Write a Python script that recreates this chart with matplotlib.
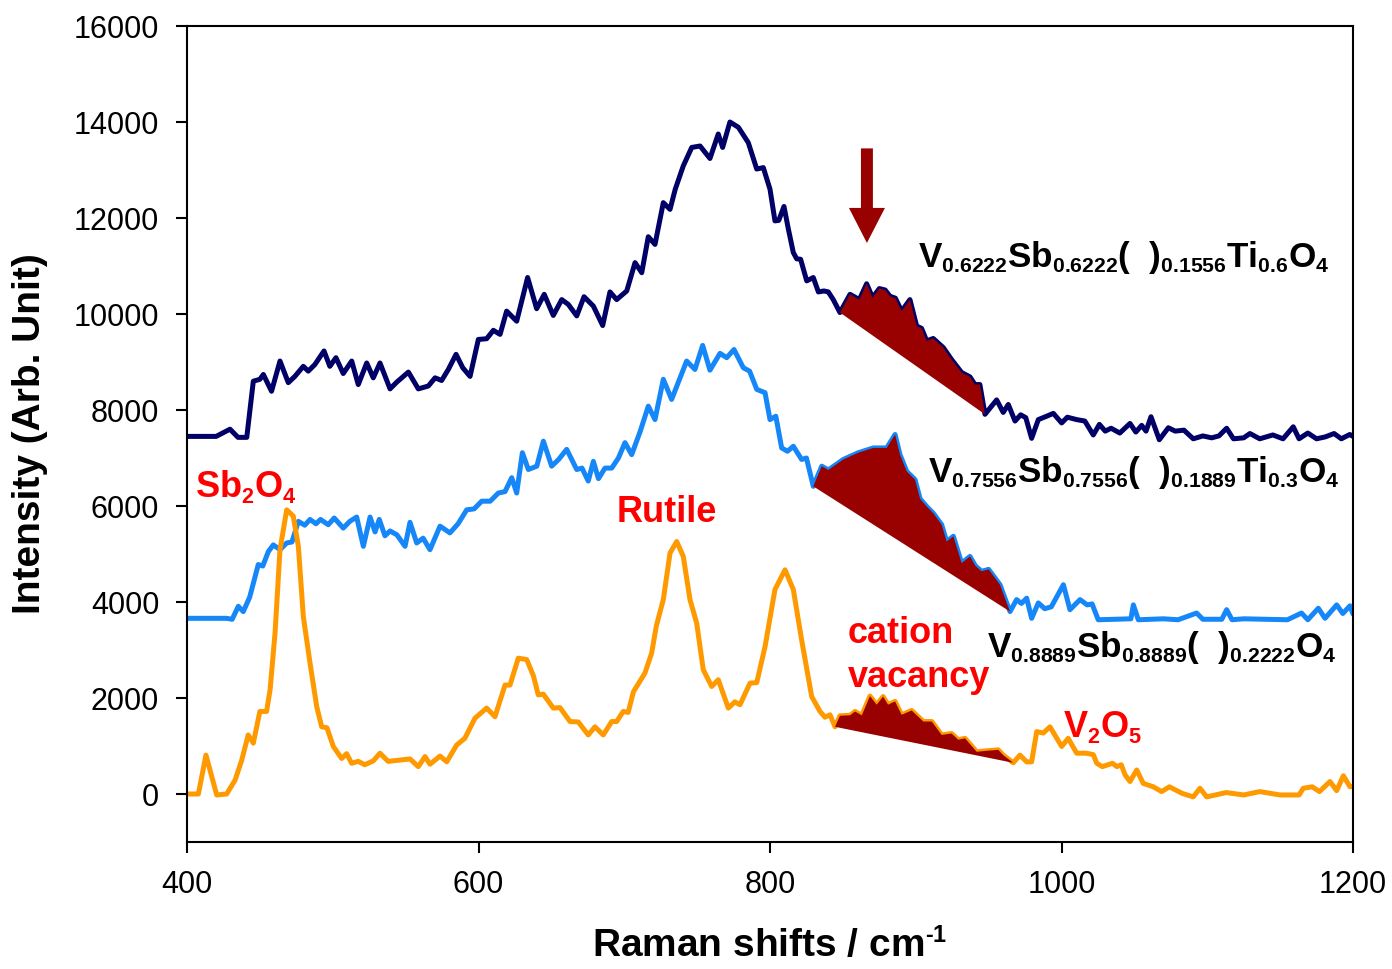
import numpy as np
import matplotlib
matplotlib.use("Agg")
import matplotlib.pyplot as plt
from matplotlib.patches import FancyArrow
import matplotlib._mathtext as _mathtext

# smaller sub/superscripts for the chemical formulas
_mathtext.SHRINK_FACTOR = 0.6

plt.rcParams["font.family"] = ["Liberation Sans", "DejaVu Sans"]
plt.rcParams["mathtext.fontset"] = "custom"
plt.rcParams["mathtext.rm"] = "Liberation Sans:bold"
plt.rcParams["mathtext.bf"] = "Liberation Sans:bold"
plt.rcParams["mathtext.it"] = "Liberation Sans:bold"
plt.rcParams["mathtext.sf"] = "Liberation Sans:bold"
plt.rcParams["mathtext.default"] = "bf"

# ---- Raman spectra (offset stacked) ----
# V0.6222Sb0.6222()0.1556Ti0.6O4
x_ti06 = [400, 420, 429.5, 435, 441, 445.5, 450, 452.4, 458, 463.8, 469.5, 474, 479.8, 483.2,
          487.8, 494, 498, 502.2, 507.2, 513, 517.5, 523.3, 527.8, 532.4, 539.3, 543.9, 551.9,
          558.7, 565.6, 570.2, 574.7, 579.3, 584.6, 589.2, 594.2, 599.9, 605.6, 610.2, 614.8,
          619.3, 626.2, 633.7, 639.9, 645.1, 651.3, 657.1, 661.6, 667.4, 672.4, 678.8, 685.2,
          690.2, 694.8, 701.7, 707.4, 712, 716.5, 721.1, 726.8, 731.4, 735, 740.5, 746.3, 752,
          758.8, 764.5, 767.5, 772.5, 778.3, 785.1, 790.9, 795.4, 800, 803.4, 806, 809.6, 812.6,
          816, 818.3, 821, 825.2, 829.7, 833.2, 837, 840, 843.4, 848, 854.9, 861.3, 866.3, 870.4,
          875, 879, 882.3, 886, 890.3, 896, 900.6, 904, 907.5, 912, 918.9, 924.6, 931.5, 937.2,
          940.6, 944, 947.5, 955.5, 960, 963.5, 968.1, 972, 975.5, 979.5, 984.1, 989.8, 994.4,
          1000.1, 1004, 1010.4, 1016, 1021.8, 1026, 1030, 1034, 1040, 1047, 1051, 1055, 1058,
          1061.4, 1067.1, 1073.3, 1078, 1084, 1090.4, 1097, 1103, 1108, 1113.3, 1118, 1125,
          1129.3, 1136, 1145, 1152, 1159, 1163, 1169, 1175, 1181, 1187, 1192, 1197.8, 1200]
y_ti06 = [7450, 7450, 7600, 7430, 7430, 8600, 8640, 8740, 8390, 9020, 8570, 8700, 8910, 8810,
          8950, 9230, 8910, 9090, 8760, 9020, 8530, 8980, 8670, 8980, 8440, 8580, 8790,
          8440, 8500, 8670, 8615, 8845, 9160, 8880, 8700, 9470, 9485, 9660, 9575,
          10060, 9850, 10760, 10110, 10410, 9970, 10300, 10200, 9960, 10360, 10165, 9760,
          10460, 10300, 10480, 11070, 10860, 11610, 11450, 12320, 12180, 12600, 13085, 13470, 13500,
          13240, 13750, 13470, 14000, 13890, 13570, 13020, 13050, 12600, 11940, 11950, 12240, 11770,
          11280, 11150, 11140, 10690, 10760, 10460, 10480, 10460, 10300, 10030, 10410, 10300, 10630, 10340,
          10530, 10500, 10370, 10330, 10060, 10300, 9750, 9700, 9440, 9490, 9300, 9050, 8780, 8690,
          8530, 8530, 7910, 8210, 7950, 8115, 7770, 7900, 7840, 7410, 7800, 7870, 7930,
          7730, 7850, 7800, 7770, 7480, 7700, 7560, 7620, 7520, 7720, 7540, 7680, 7560,
          7860, 7380, 7630, 7560, 7580, 7400, 7460, 7420, 7460, 7620, 7400, 7420,
          7510, 7400, 7480, 7400, 7650, 7400, 7520, 7400, 7440, 7510, 7400, 7490, 7450]

# V0.7556Sb0.7556()0.1889Ti0.3O4
x_ti03 = [400, 427, 431, 435.2, 438.6, 443, 448.9, 452, 455.8, 459.2, 463.8, 468.4, 472, 476.4,
          480.8, 484.4, 488.5, 491.6, 496.9, 501, 507.2, 511.7, 516.4, 521, 525.6, 529, 531.9,
          535.8, 539.3, 544, 549.6, 553, 557.6, 562, 566.7, 573.6, 580.4, 586, 591.9, 597,
          602.2, 608, 613.6, 618.2, 622.8, 626.2, 630.1, 634.2, 640, 644.5, 650.2, 655, 660.5,
          667.4, 671, 675.3, 678.8, 682.3, 686.8, 691.4, 696, 700.5, 705.1, 711, 716.5, 721.1,
          726.8, 732.5, 737, 742.8, 748.5, 753.8, 758.8, 765.7, 770.3, 775.3, 781.7, 786, 790.9,
          796.6, 800, 804, 808, 812, 816, 821.7, 825, 829.7, 835.5, 840, 850.3, 860.6, 870.9,
          880.1, 885.8, 889.2, 893.8, 899.5, 903, 907.5, 912, 917.8, 921.2, 925.8, 931.5, 937.2,
          941, 945.2, 950, 957.8, 962.4, 964.7, 969.2, 972.5, 976.1, 979.5, 984.1, 988.5, 993,
          1001.3, 1005.8, 1012.7, 1017.6, 1021, 1025.2, 1047.6, 1049.3, 1052.7, 1070, 1080,
          1092.7, 1097, 1110, 1113.3, 1117, 1125, 1140, 1155, 1164.7, 1169, 1176.2, 1180.8,
          1188.8, 1193, 1197.9, 1200]
y_ti03 = [3660, 3660, 3640, 3910, 3800, 4100, 4780, 4750, 5050, 5190, 5090, 5230, 5250, 5680,
          5600, 5720, 5630, 5720, 5610, 5750, 5540, 5680, 5770, 5160, 5770, 5460, 5720,
          5380, 5480, 5400, 5160, 5660, 5230, 5330, 5090, 5580, 5440, 5630, 5920, 5940,
          6100, 6100, 6270, 6300, 6590, 6270, 7110, 6760, 6830, 7350, 6830, 6970, 7180,
          6760, 6790, 6520, 6930, 6570, 6790, 6790, 7000, 7320, 7070, 7560, 8080, 7800,
          8640, 8220, 8570, 9020, 8845, 9345, 8830, 9180, 9090, 9260, 8880, 8810, 8430,
          8360, 7800, 7870, 7210, 7140, 7245, 6970, 7000, 6410, 6830, 6750, 6970, 7110, 7210,
          7210, 7490, 7070, 6720, 6550, 6150, 5990, 5850, 5610, 5260, 5370, 4810, 4950,
          4750, 4640, 4680, 4360, 3980, 3800, 4050, 3970, 4080, 3660, 3980, 3860, 3900,
          4360, 3840, 4050, 3940, 3960, 3630, 3650, 3940, 3630, 3650, 3630,
          3770, 3640, 3640, 3840, 3630, 3650, 3640, 3630, 3770, 3630, 3870, 3660,
          3940, 3760, 3920, 3750]

# V0.8889Sb0.8889()0.2222O4
x_ti00 = [400, 407.8, 413, 420.4, 427.2, 433, 437.5, 442, 445.5, 450, 454.6, 457, 460.4, 463.8,
          468.4, 472.9, 476.4, 479.8, 484.4, 489, 492.4, 496, 500.4, 506.1, 509.5, 513, 517.5,
          522, 527.8, 532.4, 538, 543.9, 553, 558.7, 563.3, 566.7, 573.6, 578.2, 585, 590.6,
          597.6, 605.6, 611.3, 618.2, 621.6, 627.3, 633.1, 637.7, 641, 644.5, 651.3, 655.9,
          662.8, 668.5, 675.3, 679.9, 685.6, 691.4, 694.8, 699.3, 702.7, 706.3, 714.2, 718.8,
          722, 726.8, 731.4, 736, 740.5, 745.1, 749.7, 754.2, 760, 764.5, 771.4, 775.9, 779.4,
          786.3, 790.9, 796.6, 803.4, 810.3, 816, 821.7, 828.6, 834.3, 837.7, 841.2, 844.6,
          848, 855, 858.3, 863, 868.6, 873.2, 877.6, 881, 885.8, 890.3, 897.2, 905.2, 911,
          917.8, 924.6, 929.2, 933.8, 941.8, 948.6, 956.6, 960, 966.9, 971.5, 976.1, 979.5,
          983, 987.5, 992.1, 1000.1, 1004.6, 1010.4, 1017, 1021.8, 1024.2, 1028, 1031, 1035,
          1038, 1041, 1043.6, 1047, 1051.6, 1056.1, 1063, 1068.7, 1074, 1083, 1090.4, 1095,
          1099.6, 1113, 1125, 1136, 1150, 1163, 1165.9, 1172, 1177, 1184.2, 1188.8, 1193.4,
          1197.9, 1200]
y_ti00 = [0, 0, 810, -20, 0, 290, 700, 1230, 1060, 1720, 1720, 2170, 3350, 5090,
          5920, 5790, 5160, 3700, 2730, 1820, 1400, 1380, 990, 740, 840, 640, 680,
          610, 690, 850, 680, 700, 730, 570, 780, 620, 790, 670, 1020, 1160,
          1580, 1790, 1610, 2270, 2270, 2830, 2800, 2460, 2065, 2080, 1790, 1800,
          1510, 1500, 1230, 1400, 1230, 1510, 1510, 1720, 1700, 2130, 2520, 2935,
          3500, 4050, 5020, 5260, 4950, 4050, 3560, 2590, 2240, 2380, 1790, 1920, 1860,
          2310, 2320, 3070, 4260, 4670, 4260, 3210, 2030, 1720, 1600, 1650, 1400,
          1630, 1640, 1720, 1640, 2040, 1860, 2030, 1860, 1930, 1650, 1740, 1510, 1510,
          1230, 1260, 1130, 1160, 880, 900, 920, 810, 650, 810, 670, 670,
          1300, 1270, 1400, 990, 1160, 850, 850, 820, 640, 570, 600, 640,
          570, 610, 400, 260, 500, 220, 150, 50, 150, 10, -60, 120,
          -60, 30, -20, 50, -20, -20, 120, 150, 50, 260, 70, 380,
          150, 160]

# shaded "cation vacancy" bands (start / end shift of each band)
band_ti06 = (848, 947.5)
band_ti03 = (829.7, 964.7)
band_ti00 = (844.6, 966.9)

c_ti06 = "#000066"
c_ti03 = "#1587f8"
c_ti00 = "#ff9900"
dark_red = "#990000"
red = "#ff0000"

fig = plt.figure(figsize=(13.92, 9.69), dpi=100)
ax = fig.add_axes([187 / 1392, 1 - 842 / 969, 1166 / 1392, 816 / 969])

for xs, ys, col, band in [(x_ti06, y_ti06, c_ti06, band_ti06),
                          (x_ti03, y_ti03, c_ti03, band_ti03),
                          (x_ti00, y_ti00, c_ti00, band_ti00)]:
    ax.plot(xs, ys, color=col, lw=3.6, solid_joinstyle="round",
            solid_capstyle="round", zorder=2)
    xa = np.asarray(xs, dtype=float)
    ya = np.asarray(ys, dtype=float)
    m = (xa >= band[0]) & (xa <= band[1])
    # polygon closed by a straight baseline from band start to band end
    ax.fill(xa[m], ya[m], color=dark_red, lw=0, zorder=3)

ax.add_patch(FancyArrow(866.5, 13450, 0, -1970, width=8.2, head_width=24.7,
                        head_length=730, length_includes_head=True,
                        color=dark_red, lw=0, zorder=4))

ax.set_xlim(400, 1200)
ax.set_ylim(-1000, 16000)
ax.set_xticks(range(400, 1201, 200))
ax.set_yticks(range(0, 16001, 2000))
ax.tick_params(direction="out", length=8, width=1.5, labelsize=22, pad=12)
for sp in ax.spines.values():
    sp.set_linewidth(1.5)

ax.set_xlabel(r"Raman shifts / cm$^{\text{-}1}$", fontsize=28, fontweight="bold")
ax.set_ylabel("Intensity (Arb. Unit)", fontsize=28, fontweight="bold")
ax.xaxis.set_label_coords(0.5, -0.105)
ax.yaxis.set_label_coords(-0.119, 0.5)

fs = 26
fs_formula = 25.3
ax.text(901.5, 10979, r"V$_{0.6222}$Sb$_{0.6222}$(  )$_{0.1556}$Ti$_{0.6}$O$_{4}$",
        fontsize=fs_formula, fontweight="bold", color="black", va="baseline")
ax.text(908.4, 6500, r"V$_{0.7556}$Sb$_{0.7556}$(  )$_{0.1889}$Ti$_{0.3}$O$_{4}$",
        fontsize=fs_formula, fontweight="bold", color="black", va="baseline")
ax.text(948.9, 2854, r"V$_{0.8889}$Sb$_{0.8889}$(  )$_{0.2222}$O$_{4}$",
        fontsize=fs_formula, fontweight="bold", color="black", va="baseline")

ax.text(405.5, 6187, r"Sb$_{2}$O$_{4}$", fontsize=fs, fontweight="bold", color=red, va="baseline")
ax.text(695, 5667, "Rutile", fontsize=fs, fontweight="bold", color=red, va="baseline")
ax.text(853.5, 3146, "cation", fontsize=fs, fontweight="bold", color=red, va="baseline")
ax.text(853.5, 2229, "vacancy", fontsize=fs, fontweight="bold", color=red, va="baseline")
ax.text(1001, 1188, r"V$_{2}$O$_{5}$", fontsize=fs, fontweight="bold", color=red, va="baseline")

fig.savefig("out.png", dpi=100)
